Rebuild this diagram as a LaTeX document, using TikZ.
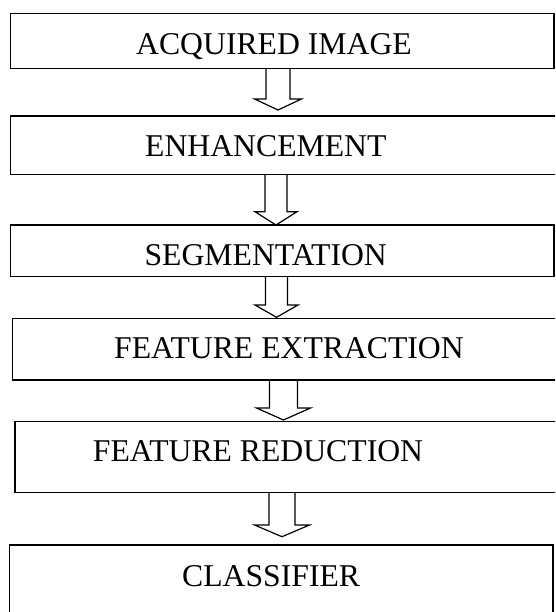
\documentclass[tikz,border=0pt]{standalone}
\usepackage{fontspec}
\setmainfont{Liberation Serif}
\usetikzlibrary{calc}

% hollow block arrow: from box, to box, centre x, shaft half width,
% head half width, head length, gap left above the lower box
\newcommand{\flowarrow}[7]{%
  \draw[hollow] let \p1 = (#1.south), \p2 = (#2.north) in
    (#3pt-#4pt, \y1) -- (#3pt-#4pt, \y2+#7pt+#6pt) -- (#3pt-#5pt, \y2+#7pt+#6pt)
    -- (#3pt, \y2+#7pt) -- (#3pt+#5pt, \y2+#7pt+#6pt) -- (#3pt+#4pt, \y2+#7pt+#6pt)
    -- (#3pt+#4pt, \y1);}

\begin{document}
\begin{tikzpicture}[x=1pt, y=1pt,
    stage/.style={draw, line width=1.5pt, rectangle, anchor=north west,
      inner sep=0pt, outer sep=0pt},
    caption/.style={anchor=base west, inner sep=0pt,
      font=\fontsize{31.7}{38}\selectfont},
    hollow/.style={draw, line width=1.2pt, line join=miter}]
        \useasboundingbox (0,0) rectangle (555,-612);
        \clip (0,0) rectangle (555,-612);

        % processing stages
        \node[stage, minimum width=543.4pt, minimum height=55pt] (acq) at (10.6,-13.3) {};
        \node[stage, minimum width=560pt, minimum height=58.5pt] (enh) at (10.6,-116) {};
        \node[stage, minimum width=543.4pt, minimum height=51.5pt] (seg) at (10.6,-225) {};
        \node[stage, minimum width=560pt, minimum height=61.7pt] (fex) at (12.7,-318.3) {};
        \node[stage, minimum width=560pt, minimum height=71pt] (fred) at (15,-421.7) {};
        \node[stage, minimum width=543.5pt, minimum height=100pt] (cls) at (9.5,-545) {};

        \node[caption] (acq-t) at (136,-54.5) {ACQUIRED IMAGE};
        \node[caption] (enh-t) at (145,-156.7) {ENHANCEMENT};
        \node[caption] (seg-t) at (144.4,-265) {SEGMENTATION};
        \node[caption] (fex-t) at (114,-358.3) {FEATURE EXTRACTION};
        \node[caption] (fred-t) at (92.7,-461.7) {FEATURE REDUCTION};
        \node[caption] (cls-t) at (182,-586) {CLASSIFIER};

        % arrows between stages
        \flowarrow{acq}{enh}{278}{12}{23.5}{11}{6}
        \flowarrow{enh}{seg}{276}{11}{21}{13.3}{0}
        \flowarrow{seg}{fex}{276.5}{11}{21.5}{12.3}{1}
        \flowarrow{fex}{fred}{283.5}{14}{27}{12}{1.7}
        \flowarrow{fred}{cls}{282}{13}{27.5}{11.7}{8.3}
\end{tikzpicture}
\end{document}
